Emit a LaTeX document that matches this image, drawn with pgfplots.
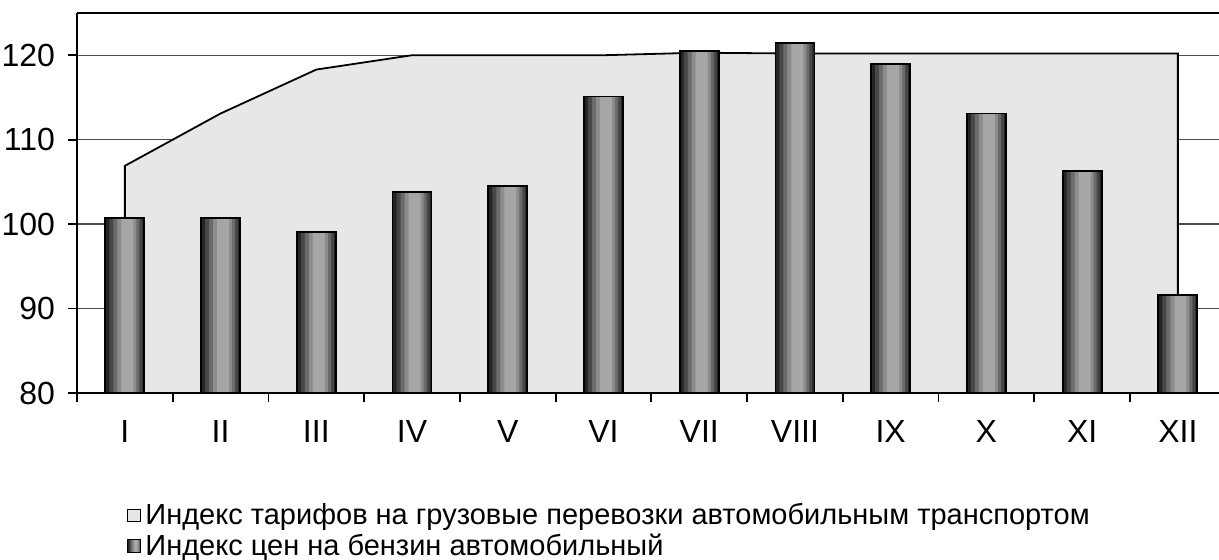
\documentclass[border=0pt]{standalone}
\usepackage{pgfplots}
\pgfplotsset{compat=1.18}
\usepackage{fontspec}
\setmainfont{Liberation Sans}
\definecolor{marble}{RGB}{231,231,234}
% dark edges, light towards the middle (legend square)
\pgfdeclarehorizontalshading{barshade}{100bp}{color(0bp)=(black!88); color(25bp)=(black!88);
  color(38bp)=(black!55); color(52bp)=(black!32); color(62bp)=(black!38);
  color(75bp)=(black!85); color(100bp)=(black!85)}
\pgfplotstableread{
m v
0 100.7
1 100.7
2 99.1
3 103.8
4 104.5
5 115.1
6 120.5
7 121.4
8 119.0
9 113.1
10 106.3
11 91.6
}\petrol
\begin{document}
\begin{tikzpicture}
\useasboundingbox (-38.5pt,-83.5pt) rectangle (571pt,196.5pt);
\begin{axis}[
  scale only axis, width=571pt, height=190pt,
  xmin=-0.5, xmax=11.43, ymin=80, ymax=125,
  axis x line*=bottom, axis y line*=left,
  axis line style={line width=0.9pt},
  tick align=outside, major tick length=4.5pt,
  tick style={black, line width=0.9pt},
  ytick={80,90,100,110,120},
  ymajorgrids, major grid style={black!70, line width=0.7pt},
  xtick={-0.5,0.5,...,10.5}, xticklabels={},
  extra x ticks={0,1,2,3,4,5,6,7,8,9,10,11},
  extra x tick labels={I,II,III,IV,V,VI,VII,VIII,IX,X,XI,XII},
  extra x tick style={major tick length=0pt, grid=none},
  tick label style={font=\fontsize{16}{19}\selectfont},
  xticklabel style={yshift=-10pt},
  yticklabel style={xshift=-3pt},
  /pgf/number format/assume math mode=true,
  legend style={at={(axis description cs:0,0)}, anchor=north west,
    xshift=24pt, yshift=-52pt, draw=none, fill=none,
    font=\fontsize{14.5}{15}\selectfont, row sep=-1pt,
    legend cell align=left, inner sep=1pt},
  legend image code/.code={\draw[#1, line width=0.5pt] (0pt,-3.2pt) rectangle (6.5pt,3.2pt);},
]
\addplot[fill=marble, draw=black, line width=0.9pt] coordinates {
(0,80) (0,106.9) (1,113.1) (2,118.3) (3,120.0) (4,120.0) (5,120.0)
(6,120.3) (7,120.2) (8,120.2) (9,120.2) (10,120.2) (11,120.2) (11,80)} -- cycle;
\addlegendentry{Индекс тарифов на грузовые перевозки автомобильным транспортом}
% bars: nested fills give the cylinder-like shading, outline on top
\addplot[ybar, forget plot, draw=none, fill=black!86, bar width=19.5pt] table[x=m,y=v] {\petrol};
\addplot[ybar, forget plot, draw=none, fill=black!72, bar width=16.5pt, bar shift=0.5pt] table[x=m,y=v] {\petrol};
\addplot[ybar, forget plot, draw=none, fill=black!58, bar width=13pt, bar shift=0.75pt] table[x=m,y=v] {\petrol};
\addplot[ybar, forget plot, draw=none, fill=black!45, bar width=9.5pt, bar shift=1pt] table[x=m,y=v] {\petrol};
\addplot[ybar, forget plot, draw=none, fill=black!35, bar width=6pt, bar shift=1.25pt] table[x=m,y=v] {\petrol};
\addplot[ybar, forget plot, draw=black, fill=none, line width=0.9pt, bar width=19.5pt] table[x=m,y=v] {\petrol};
\addlegendimage{shade, shading=barshade}
\addlegendentry{Индекс цен на бензин автомобильный}
\draw[line width=0.9pt] (rel axis cs:0,1) -- (rel axis cs:1,1);
\end{axis}
\end{tikzpicture}
\end{document}
